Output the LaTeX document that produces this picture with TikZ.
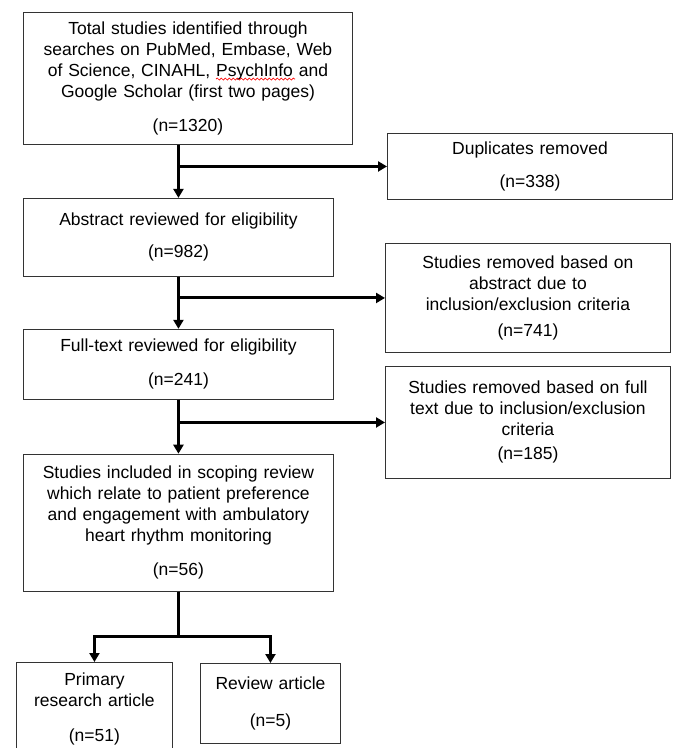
\documentclass[tikz,border=0pt]{standalone}
\usepackage{fontspec}
\setmainfont{Liberation Sans}
\usetikzlibrary{arrows.meta, positioning, decorations.pathmorphing}
\newcommand{\boxfont}{\fontsize{17.5}{21}\selectfont}

\begin{document}
\begin{tikzpicture}[
            x=1pt, y=-1pt,
            box/.style={draw=black!80, line width=0.9pt, align=center, inner xsep=3pt, inner ysep=2pt, font=\boxfont, anchor=north west},
            flow/.style={-{Triangle[width=10pt, length=9pt]}, line width=3pt},
            spellwave/.style={draw=red, line width=0.7pt, decorate, decoration={snake, amplitude=1pt, segment length=4pt}},
            ]
            \useasboundingbox (0,0) rectangle (674,748);

            % main column
            \node[box, text width=323pt, minimum height=132pt] (tot) at (23,12) {Total studies identified through\\ searches on PubMed, Embase, Web\\ of Science, CINAHL, PsychInfo and\\ Google Scholar (first two pages)\\[13pt] (n=1320)};
            \node[box, text width=304pt, minimum height=78pt] (abs) [below=53pt of tot.south west, anchor=north west] {Abstract reviewed for eligibility\\[11pt] (n=982)};
            \node[box, text width=304pt, minimum height=70pt] (ful) [below=52pt of abs.south west, anchor=north west] {Full-text reviewed for eligibility\\[13pt] (n=241)};
            \node[box, text width=304pt, minimum height=137pt] (inc) [below=54pt of ful.south west, anchor=north west] {Studies included in scoping review\\ which relate to patient preference\\ and engagement with ambulatory\\ heart rhythm monitoring\\[13pt] (n=56)};

            % excluded
            \node[box, text width=279pt, minimum height=66pt] (dup) at (387,133) {Duplicates removed\\[12pt] (n=338)};
            \node[box, text width=279pt, minimum height=109pt] (exa) at (385,243) {Studies removed based on\\ abstract due to\\ inclusion/exclusion criteria\\[5pt] (n=741)};
            \node[box, text width=279pt, minimum height=112pt] (exf) at (385,366) {Studies removed based on full\\ text due to inclusion/exclusion\\ criteria\\[3pt] (n=185)};

            % split
            \node[box, text width=150pt, minimum height=94pt] (pri) at (16,662) {Primary\\ research article\\[14pt] (n=51)};
            \node[box, text width=134pt, minimum height=80pt] (rev) at (200,663) {Review article\\[16pt] (n=5)};
            \coordinate (split) at ([yshift=-45pt]inc.south);

            % spell-check mark under PsychInfo
            \coordinate (wa) at ([xshift=193pt, yshift=-67pt]tot.north west);
            \coordinate (wb) at ([xshift=272pt, yshift=-67pt]tot.north west);
            \path[spellwave] (wa) -- (wb);

            \draw[flow] (tot.south -| abs.north) -- (abs.north);
            \draw[flow] (abs.north |- dup.west) -- (dup.west);
            \draw[flow] (abs.south) -- (ful.north);
            \draw[flow] (ful.north |- exa.west) -- (exa.west);
            \draw[flow] (ful.south) -- (inc.north);
            \draw[flow] (inc.north |- exf.west) -- (exf.west);
            \draw[flow] (inc.south) -- (split) -| (pri.north);
            \draw[flow] (split) -| (rev.north);
        \end{tikzpicture}
\end{document}
